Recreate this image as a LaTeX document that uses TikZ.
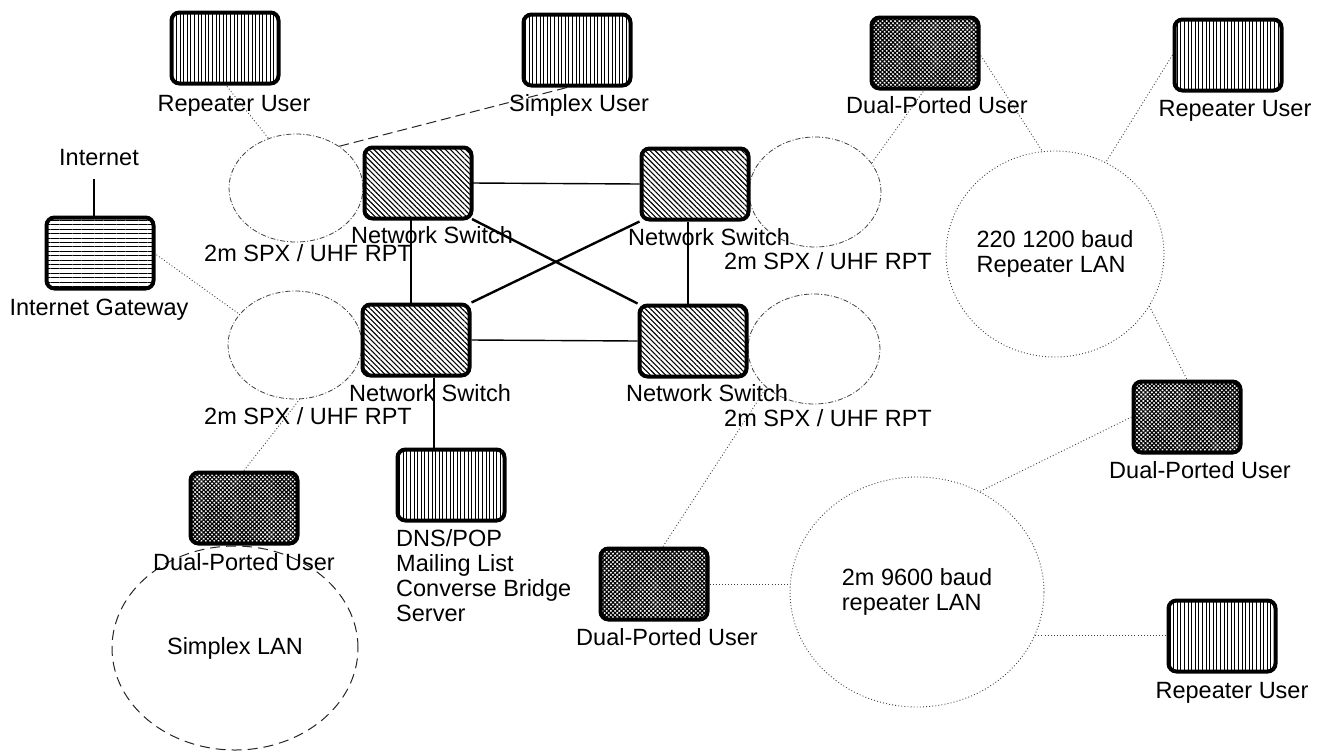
\documentclass[tikz,border=0pt]{standalone}
\usepackage{fontspec}
\setmainfont{Liberation Sans}
\usetikzlibrary{shapes.geometric,patterns.meta,backgrounds}
\begin{document}
\begin{tikzpicture}[x=1pt,y=-1pt,
  box/.style={draw=black,line width=4pt,rounded corners=8pt,minimum width=107pt,minimum height=71pt,inner sep=0pt},
  vbox/.style={box,pattern={Lines[angle=90,distance=3.6pt,line width=1pt]}},
  hbox/.style={box,pattern={Lines[angle=0,distance=4.4pt,line width=1pt]}},
  sbox/.style={box,pattern={Lines[angle=-45,distance=3.6pt,line width=1.1pt]}},
  dbox/.style={box,pattern={Hatch[angle=45,distance=3pt,line width=1.15pt]}},
  txt/.style={font=\fontsize{23.5}{25}\selectfont,inner sep=0pt},
  lbl/.style={txt,anchor=base},
  ell/.style={ellipse,inner sep=0pt},
  dashdot/.style={draw=black!75,line width=0.8pt,dash pattern=on 5pt off 2pt on 1pt off 2pt},
  dotline/.style={draw=black!75,line width=0.9pt,dash pattern=on 0.9pt off 2.2pt},
  lan/.style={draw=black!85,line width=1pt,dash pattern=on 10pt off 6pt},
  dashline/.style={draw=black!85,line width=1pt,dash pattern=on 10pt off 5pt},
  link/.style={draw=black,line width=1.4pt},
  xlink/.style={draw=black,line width=2.4pt}
]
\useasboundingbox (0,0) rectangle (1327,753);

% ellipses / LAN areas
\node[ell,dashdot,minimum width=134pt,minimum height=108pt] (E1) at (296,188) {};
\node[ell,dashdot,minimum width=132pt,minimum height=110pt] (E2) at (815,192) {};
\node[ell,dashdot,minimum width=134pt,minimum height=108pt] (E3) at (295,345) {};
\node[ell,dashdot,minimum width=132pt,minimum height=110pt] (E4) at (814,349) {};
\node[ell,lan,txt,minimum width=246pt,minimum height=204pt] (SLAN) at (235,648) {Simplex LAN};
\node[ell,dotline,txt,align=left,inner xsep=-14pt,minimum width=218pt,minimum height=206pt] (C1) at (1055,254) {220 1200 baud\\Repeater LAN};
\node[ell,dotline,txt,align=left,minimum width=254pt,minimum height=230pt] (C2) at (917,592) {2m 9600 baud\\repeater LAN};

% boxes
\node[vbox] (RU1) at (225,48) {};
\node[vbox] (SU) at (577,50) {};
\node[dbox] (DP1) at (925,53) {};
\node[vbox] (RU2) at (1228,55) {};
\node[hbox] (IG) at (100,253) {};
\node[sbox] (NS1) at (418,183) {};
\node[sbox] (NS2) at (695,184) {};
\node[sbox] (NS3) at (416,340) {};
\node[sbox] (NS4) at (693,341) {};
\node[vbox] (DNS) at (451,485) {};
\node[dbox] (DP4) at (244,508) {};
\node[dbox] (DP3) at (654,584) {};
\node[dbox] (DP2) at (1187,417) {};
\node[vbox] (RU3) at (1222,636) {};

% labels
\node[lbl] (RU1l) at (234,111) {Repeater User};
\node[lbl] (SUl) at (579,111) {Simplex User};
\node[lbl] (DP1l) at (937,113) {Dual-Ported User};
\node[lbl] (RU2l) at (1235,116) {Repeater User};
\node[lbl] (INET) at (99,165) {Internet};
\node[lbl] (IGl) at (99,315) {Internet Gateway};
\node[lbl] (NS1l) at (432,243) {Network Switch};
\node[lbl] (NS2l) at (709,245) {Network Switch};
\node[lbl] (NS3l) at (430,401) {Network Switch};
\node[lbl] (NS4l) at (707,401) {Network Switch};
\node[lbl] (R1) at (308,261) {2m SPX / UHF RPT};
\node[lbl] (R2) at (828,269) {2m SPX / UHF RPT};
\node[lbl] (R3) at (308,424) {2m SPX / UHF RPT};
\node[lbl] (R4) at (828,426) {2m SPX / UHF RPT};
\node[lbl] (DP4l) at (244,570) {Dual-Ported User};
\node[txt,align=left,anchor=north west] (DNSl) at (396,529) {DNS/POP\\Mailing List\\Converse Bridge\\Server};
\node[lbl] (DP3l) at (667,645) {Dual-Ported User};
\node[lbl] (DP2l) at (1200,478) {Dual-Ported User};
\node[lbl] (RU3l) at (1232,698) {Repeater User};

\coordinate (itop) at (94,179);

\begin{pgfonlayer}{background}
\fill[white] (0,0) rectangle (1327,753);
% switch mesh
\draw[link] (NS1.east) -- (NS2.west);
\draw[link] (NS3.east) -- (NS4.west);
\draw[link] ([xshift=-7pt]NS1.south) -- ([xshift=-7pt]NS1.south |- NS3.north);
\draw[link] ([xshift=-7pt]NS2.south) -- ([xshift=-7pt]NS2.south |- NS4.north);
\draw[xlink] (NS1.south east) -- (NS4.north west);
\draw[xlink] (NS3.north east) -- (NS2.south west);
\draw[link] ([xshift=18pt]NS3.south) -- ([xshift=18pt]NS3.south |- DNS.north);
\draw[xlink] (IG.north -| itop) -- (itop);
% radio links
\draw[dotline] (RU1.south) -- (E1.119);
\draw[dashline] (E1.44) -- ([xshift=-10pt]SU.south);
\draw[dotline] (IG.east) -- (E3.151);
\draw[dotline] (DP4.north) -- (E3.-85);
\draw[dotline] (DP1.south) -- (E2.27);
\draw[dotline] (DP1.east) -- (C1.97);
\draw[dotline] (RU2.west) -- (C1.61);
\draw[dotline] (C1.-29) -- (DP2.north);
\draw[dotline] (DP2.west) -- (C2.58);
\draw[dotline] (DP3.east) -- (DP3.east -| C2.west);
\draw[dotline] (C2.-20) -- (C2.-20 -| RU3.west);
\draw[dotline] ([xshift=9pt]DP3.north) -- (E4.219);
\end{pgfonlayer}
\end{tikzpicture}
\end{document}
